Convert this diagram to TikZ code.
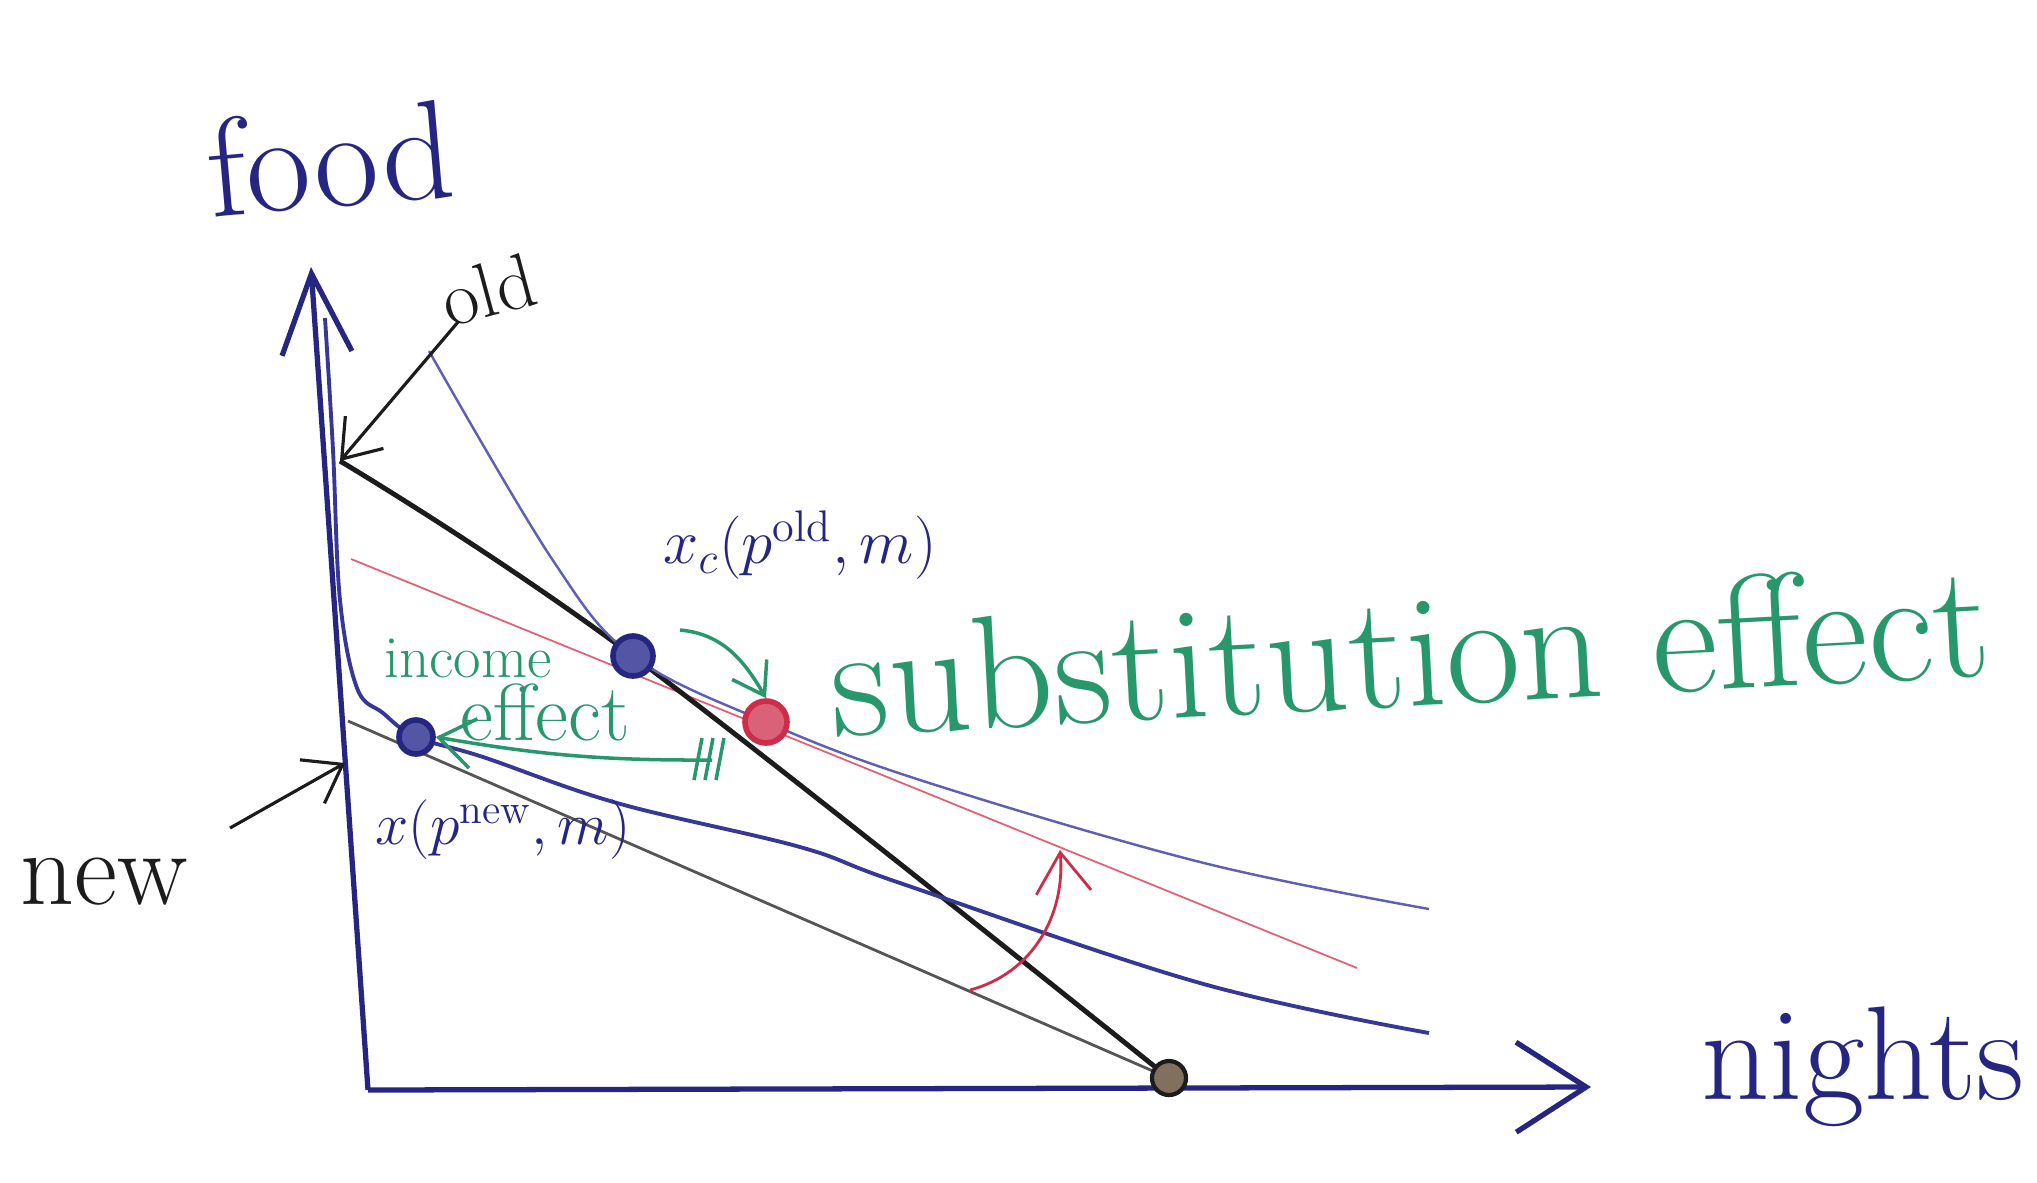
\RequirePackage{fix-cm}
\documentclass[tikz,border=0pt]{standalone}
\usepackage{amsmath}
\usepackage{fontspec}
\usepackage{xcolor}
\usepackage{tikz}
\usetikzlibrary{arrows.meta, positioning, calc}
\definecolor{inkBlue}{RGB}{38,38,128}
\definecolor{icLight}{RGB}{95,95,180}
\definecolor{icBlue}{RGB}{55,55,150}
\definecolor{inkGreen}{RGB}{40,152,108}
\definecolor{inkRed}{RGB}{205,45,75}
\definecolor{lineRed}{RGB}{228,95,115}
\definecolor{inkBlack}{RGB}{28,28,28}
\tikzset{
  axisLine/.style={draw=inkBlue, line width=1.5pt},
  budgetOld/.style={draw=inkBlack, line width=1.4pt},
  budgetNew/.style={draw=inkBlack!75, line width=0.8pt},
  compLine/.style={draw=lineRed, line width=0.5pt},
  icHigh/.style={draw=icLight, line width=0.7pt},
  icLow/.style={draw=icBlue, line width=1.1pt},
  ptBlue/.style={circle, draw=inkBlue, fill=icBlue!85, line width=1.6pt,
                 inner sep=0pt, minimum size=0.40cm},
  ptRed/.style={circle, draw=inkRed, fill=inkRed!75, line width=1.6pt,
                inner sep=0pt, minimum size=0.42cm},
  ptDark/.style={circle, draw=inkBlack, fill=brown!40!black!70, line width=1.2pt,
                 inner sep=0pt, minimum size=0.34cm},
  handBlue/.style={text=inkBlue, inner sep=0pt},
  handGreen/.style={text=inkGreen, inner sep=0pt},
  handBlack/.style={text=inkBlack, inner sep=0pt},
  pointer/.style={draw=inkBlack, line width=0.9pt,
                  -{Straight Barb[length=3.5mm, width=5mm]}},
  greenArrow/.style={draw=inkGreen, line width=1pt},
}

\begin{document}
\begin{tikzpicture}
    \useasboundingbox (0,0) rectangle (20.37,-11.82);
    %% axes
    \coordinate (O) at (3.68,-10.90);
    \coordinate (yTip) at (3.11,-2.67);
    \coordinate (xTip) at (15.91,-10.87);
    \draw[axisLine, -{Straight Barb[length=8mm, width=7mm]}] (O) -- (yTip);
    \draw[axisLine, -{Straight Barb[length=7mm, width=9mm]}] (O) -- (xTip);
    \node[handBlue, font=\fontsize{40}{44}\selectfont, rotate=5] (foodL) at (3.30,-1.58) {food};
    \node[handBlue, font=\fontsize{38}{42}\selectfont, right=11mm of xTip, yshift=2mm] (nightsL) {nights};
    %% budget lines
    \coordinate (oldTop) at (3.40,-4.61);
    \coordinate (newTop) at (3.48,-7.21);
    \coordinate (compTop) at (3.51,-5.59);
    \coordinate (compEnd) at (13.57,-9.68);
    \coordinate (xInt) at (11.69,-10.78);
    \coordinate (xOrig) at (6.33,-6.56);
    \coordinate (xNew) at (4.16,-7.37);
    \coordinate (xComp) at (7.66,-7.22);
    \draw[compLine] (compTop) -- (compEnd);
    \draw[budgetNew] (newTop) -- (xInt);
    \draw[budgetOld] plot[smooth, tension=0.6] coordinates {(oldTop) (xOrig) (xInt)};
    %% indifference curves
    \draw[icHigh] plot[smooth, tension=0.6] coordinates {(4.29,-3.51) (5.52,-5.59) (xOrig)
        (xComp) (9.20,-7.80) (12.00,-8.62) (14.29,-9.09)};
    \draw[icLow] plot[smooth, tension=0.6] coordinates {(3.25,-3.18) (3.33,-4.50) (3.40,-6.00)
        (3.57,-6.88) (3.83,-7.13) (xNew) (4.83,-7.57) (6.17,-8.03) (8.00,-8.47)
        (9.00,-8.83) (12.00,-9.83) (14.29,-10.33)};
    %% rotation of the new line
    \coordinate (rotStart) at (9.70,-9.90);
    \coordinate (rotTip) at (10.60,-8.50);
    \draw[draw=inkRed, line width=0.8pt, -{Straight Barb[length=4mm, width=5.5mm]}]
        (rotStart) to[out=15, in=-85] (rotTip);
    %% old / new pointers
    \node[handBlack, font=\fontsize{22}{24}\selectfont, rotate=15] (oldL) at (4.88,-2.90) {old};
    \node[handBlack, font=\fontsize{30}{32}\selectfont] (newL) at (1.04,-8.82) {new};
    \coordinate (oldFrom) at (4.58,-3.22);
    \coordinate (newFrom) at (2.30,-8.28);
    \coordinate (newTo) at (3.45,-7.63);
    \draw[pointer] (oldFrom) -- (oldTop);
    \draw[pointer] (newFrom) -- (newTo);
    %% bundles
    \node[ptBlue] (origP) at (xOrig) {};
    \node[ptBlue, minimum size=0.34cm] (newP) at (xNew) {};
    \node[ptRed] (compP) at (xComp) {};
    \node[ptDark] (intP) at (xInt) {};
    %% labels
    \node[handBlue, font=\fontsize{18}{20}\selectfont] (xcL) at (8.00,-5.45) {$x_c(p^{\text{old}},m)$};
    \node[handBlue, font=\fontsize{17}{20}\selectfont] (xnewL) at (5.03,-8.30) {$x(p^{\text{new}},m)$};
    \node[handGreen, font=\fontsize{46}{50}\selectfont, rotate=3] (subL) at (14.10,-6.50) {substitution effect};
    \node[handGreen, font=\fontsize{17}{20}\selectfont] (incL) at (4.68,-6.58) {income};
    \node[handGreen, font=\fontsize{23}{25}\selectfont] (effL) at (5.45,-7.12) {effect};
    %% effect arrows
    \coordinate (subFrom) at (6.80,-6.30);
    \coordinate (incTail) at (7.12,-7.60);
    \draw[greenArrow, -{Straight Barb[length=3mm, width=4mm]}] (subFrom) to[out=-5, in=120] (compP.north);
    \draw[greenArrow, -{Straight Barb[length=3.5mm, width=5mm]}] (incTail) to[bend left=5] (newP.east);
    \foreach \dx in {0,0.11,0.22}{
      \draw[greenArrow] ($(incTail)+(\dx-0.10,0.22)$) -- ($(incTail)+(\dx-0.18,-0.20)$);
    }
\end{tikzpicture}
\end{document}
